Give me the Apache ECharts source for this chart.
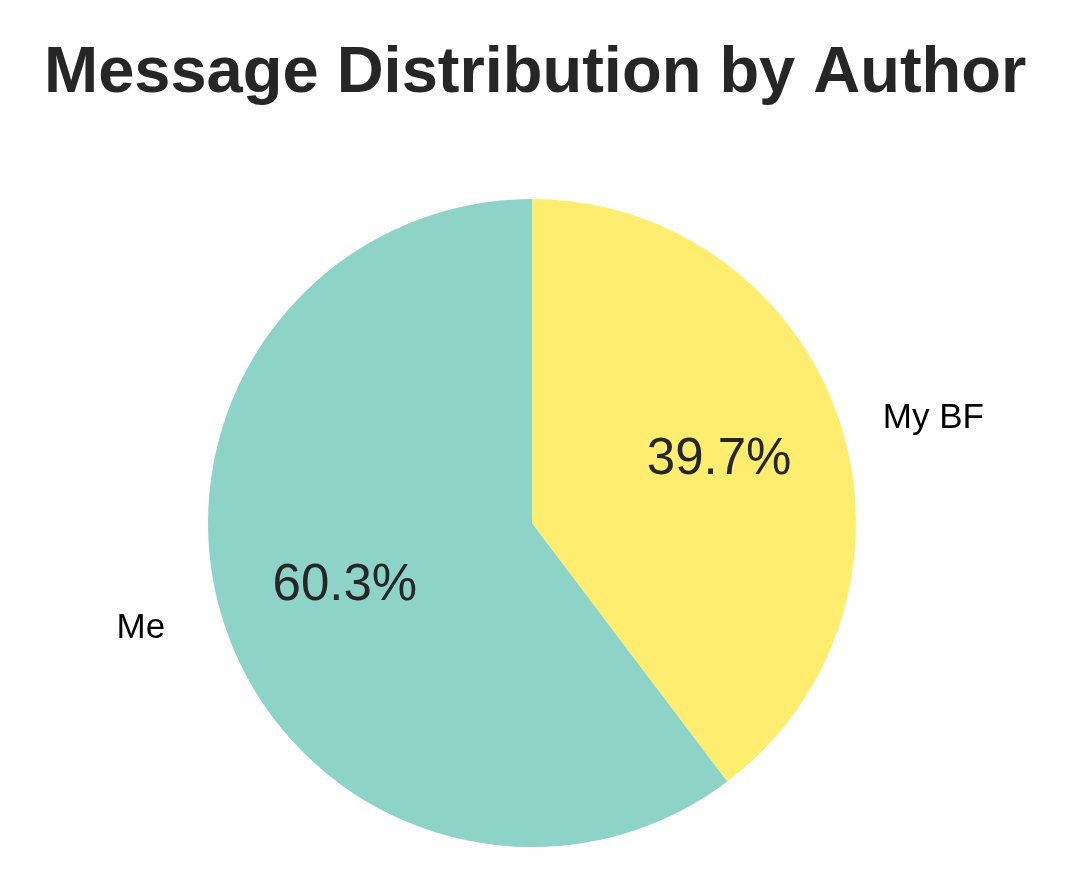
<!DOCTYPE html>
<html>
<head>
<meta charset="utf-8">
<script src="https://cdn.jsdelivr.net/npm/echarts@6/dist/echarts.min.js"></script>
<style>
html,body{margin:0;padding:0;background:#fff;}
#chart{width:1080px;height:894px;}
</style>
</head>
<body>
<div id="chart"></div>
<script>
const titleText = 'Message Distribution by Author';
const authors = ['Me', 'My BF'];
const shares = [60.3, 39.7];
const colors = ['#8dd3c7', '#ffed6f'];

const chart = echarts.init(document.getElementById('chart'), null, {renderer: 'canvas'});
const R = 324;
const center = [532, 523];
const labelLen2 = {'Me': 49, 'My BF': 33};

const pieData = authors.map((a, i) => ({
  name: a, value: shares[i],
  itemStyle: {color: colors[i]},
  labelLine: {show: false, length: 6, length2: labelLen2[a]}
}));
const pctData = authors.map((a, i) => ({name: a, value: shares[i]}));

chart.setOption({
  backgroundColor: '#ffffff',
  animation: false,
  title: {
    text: titleText,
    left: 39,
    top: 37,
    textStyle: {fontFamily: 'Liberation Sans', fontWeight: 'bold', fontSize: 65, color: '#262626'}
  },
  series: [
    {
      type: 'pie',
      center: center,
      radius: [0, R],
      startAngle: 90,
      clockwise: false,
      silent: true,
      data: pieData,
      itemStyle: {borderWidth: 0},
      label: {
        show: true,
        position: 'outside',
        formatter: '{b}',
        fontFamily: 'Liberation Sans',
        fontSize: 35,
        color: '#000000',
        distanceToLabelLine: 5,
        padding: [5, 0, 0, 0]
      },
      labelLine: {show: false}
    },
    {
      type: 'pie',
      center: center,
      radius: [0, R * 1.2],
      startAngle: 90,
      clockwise: false,
      silent: true,
      data: pctData,
      itemStyle: {color: 'rgba(0,0,0,0)', borderWidth: 0},
      label: {
        show: true,
        position: 'inside',
        formatter: p => p.value.toFixed(1) + '%',
        fontFamily: 'Liberation Sans',
        fontSize: 51,
        color: '#262626'
      },
      labelLine: {show: false}
    }
  ]
});
</script>
</body>
</html>
